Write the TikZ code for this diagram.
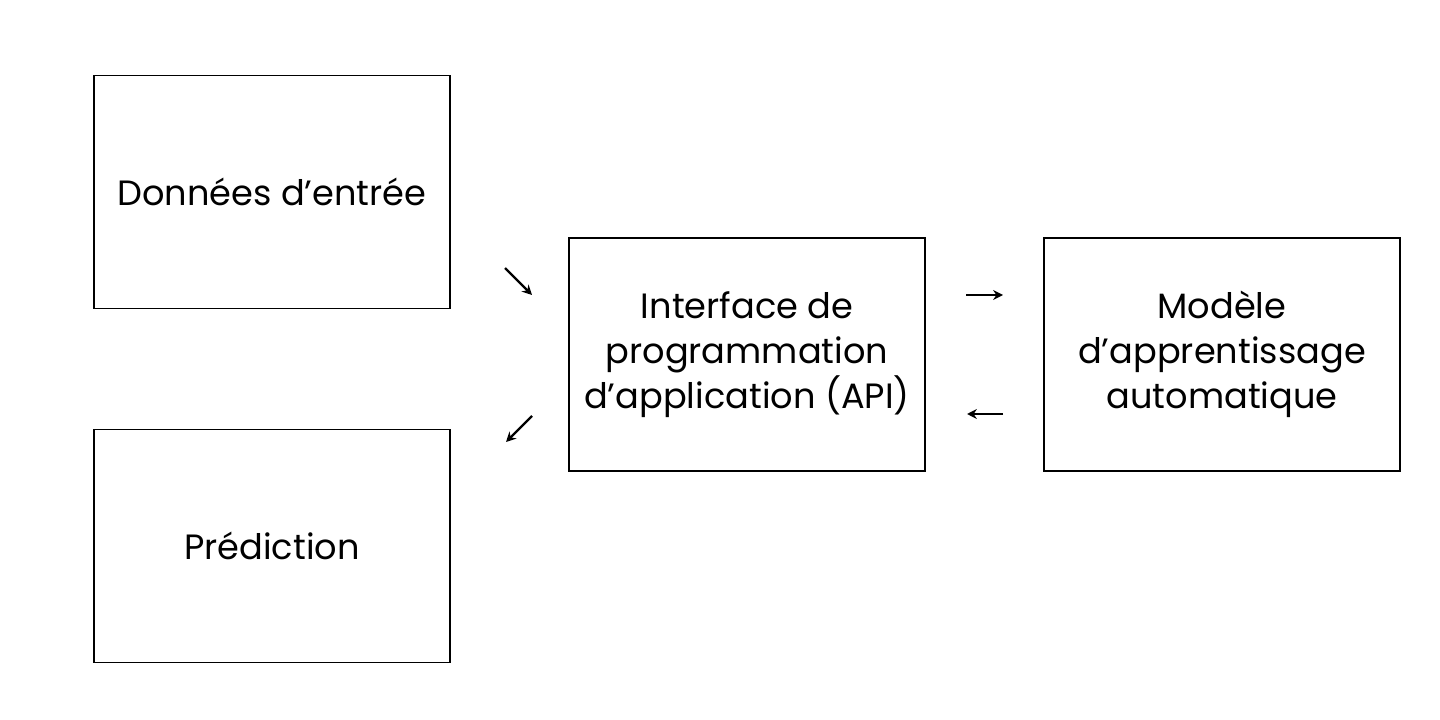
\documentclass[tikz,border=0pt]{standalone}
\usepackage{fontspec}
\setmainfont{Poppins}
\usetikzlibrary{arrows.meta}
\begin{document}
\begin{tikzpicture}[x=0.025cm,y=-0.025cm,
  box/.style={draw,line width=1pt,minimum width=356*0.025cm,minimum height=233*0.025cm,inner sep=0pt,align=center,font=\fontsize{25}{32}\selectfont},
  arr/.style={line width=1.6pt,-{Stealth[length=7pt,width=7pt]}}]
\useasboundingbox (0,0) rectangle (1440,720);
\node[box] (in) at (272,192) {Données d'entrée};
\node[box] (pred) at (272,546) {Prédiction};
\node[box] (api) at (747,354.5) {Interface de\\programmation\\d'application (API)};
\node[box] (mod) at (1222,354.5) {Modèle\\d'apprentissage\\automatique};
\coordinate (a1) at (505,268); \coordinate (a2) at (532,295);
\coordinate (b1) at (532,416); \coordinate (b2) at (506,442);
\coordinate (c1) at (966,295); \coordinate (c2) at (1003,295);
\coordinate (d1) at (1003,414); \coordinate (d2) at (967,414);
\draw[arr] (a1) -- (a2);
\draw[arr] (b1) -- (b2);
\draw[arr] (c1) -- (c2);
\draw[arr] (d1) -- (d2);
\end{tikzpicture}
\end{document}
